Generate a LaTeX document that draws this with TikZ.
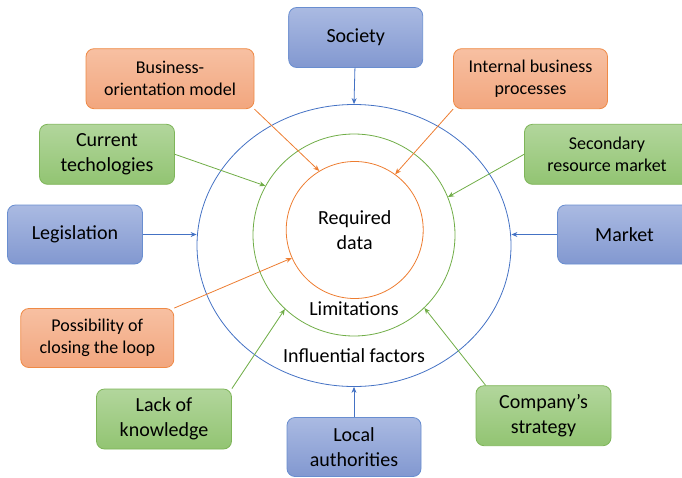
\documentclass[tikz,border=0pt]{standalone}
\usepackage{fontspec}
\setmainfont{Carlito}
\usetikzlibrary{arrows.meta, shapes.geometric}

\definecolor{blueline}{RGB}{68,114,196}
\definecolor{greenline}{RGB}{112,173,71}
\definecolor{orangeline}{RGB}{237,125,49}
\definecolor{bluetop}{RGB}{170,186,226}
\definecolor{bluebot}{RGB}{130,152,208}
\definecolor{greentop}{RGB}{178,214,156}
\definecolor{greenbot}{RGB}{146,196,114}
\definecolor{orangetop}{RGB}{247,192,162}
\definecolor{orangebot}{RGB}{242,166,126}

\begin{document}
\begin{tikzpicture}[
    x=1pt, y=-1pt,
    box/.style={rectangle, rounded corners=8pt, inner sep=0pt, align=center, minimum height=60pt, line width=0.8pt},
    blue box/.style={box, draw=blueline!80, top color=bluetop, bottom color=bluebot, font=\fontsize{20}{25}\selectfont},
    green box/.style={box, draw=greenline!90, top color=greentop, bottom color=greenbot, font=\fontsize{20}{25}\selectfont},
    orange box/.style={box, draw=orangeline!90, top color=orangetop, bottom color=orangebot, font=\fontsize{18}{22}\selectfont},
    ring label/.style={font=\fontsize{20}{25}\selectfont},
    link/.style={line width=0.8pt, -{Stealth[length=6pt, width=5pt]}}
]
\useasboundingbox (0,0) rectangle (682,477);

% ringen
\node[ellipse, draw=blueline, line width=0.8pt, minimum width=314pt, minimum height=282pt] (infl) at (354,245.5) {};
\node[circle, draw=greenline, line width=0.8pt, minimum size=202pt] (lim) at (354,235) {};
\node[circle, draw=orangeline, line width=0.8pt, minimum size=137pt, align=center, ring label] (data) at (354.7,230) {Required\\data};
\node[ring label] (limtext) at (354,309) {Limitations};
\node[ring label] (infltext) at (354,356) {Influential factors};

% blauwe kaders
\node[blue box, minimum width=134pt] (soc)  at (355.7,37.5) {Society};
\node[blue box, minimum width=135pt, minimum height=59pt] (leg)  at (75,234.5) {Legislation};
\node[blue box, minimum width=134pt, minimum height=59pt] (mkt)  at (624.5,234.5) {Market};
\node[blue box, minimum width=134pt, minimum height=59pt] (loc)  at (354,447) {Local\\authorities};

% oranje kaders
\node[orange box, minimum width=168pt] (bom) at (170,78.7) {Business-\\orientation model};
\node[orange box, minimum width=154pt] (ibp) at (530.5,78.7) {Internal business\\processes};
\node[orange box, minimum width=153pt, minimum height=59pt] (pos) at (97.3,338) {Possibility of\\closing the loop};

% groene kaders
\node[green box, minimum width=135pt] (cur)  at (107,154.3) {Current\\techologies};
\node[green box, minimum width=165pt, font=\fontsize{18}{22}\selectfont] (sec) at (607,154.3) {Secondary\\resource market};
\node[green box, minimum width=135pt] (lack) at (164,419) {Lack of\\knowledge};
\node[green box, minimum width=135pt] (comp) at (543.5,415.7) {Company’s\\strategy};

% pijlen
\draw[link, blueline] (soc) -- (infl.north);
\draw[link, blueline] (leg.east) -- (leg.east -| infl.west);
\draw[link, blueline] (mkt.west) -- (mkt.west -| infl.east);
\draw[link, blueline] (loc) -- (infl.south);

\draw[link, orangeline] (bom.south east) -- (data.121.5);
\draw[link, orangeline] (ibp.south west) -- (data.54.7);
\draw[link, orangeline] (pos.north east) -- (data.204.7);

\draw[link, greenline] (cur.east) -- (lim.151.1);
\draw[link, greenline] (sec.west) -- (lim.22.6);
\draw[link, greenline] (lack.north east) -- (lim.227.7);
\draw[link, greenline] ([xshift=10pt]comp.north west) -- (lim.314.2);

\end{tikzpicture}
\end{document}
